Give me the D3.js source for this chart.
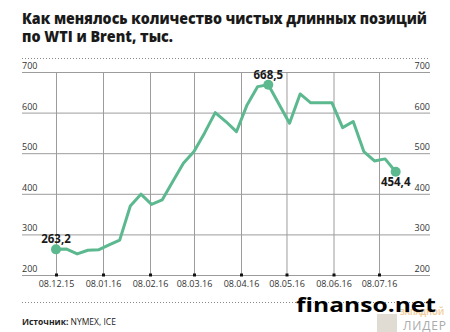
<!DOCTYPE html>
<html><head><meta charset="utf-8">
<script src="https://cdn.jsdelivr.net/npm/d3@7"></script>
<style>
html,body{margin:0;padding:0;background:#fff;}
svg{display:block;}
text{font-family:"Open Sans","Roboto",sans-serif;}
</style></head>
<body>
<svg id="c" width="450" height="332"></svg>
<script>
const dates = ["2015-12-08","2015-12-15","2015-12-22","2015-12-29","2016-01-05","2016-01-12","2016-01-19","2016-01-26",
"2016-02-02","2016-02-09","2016-02-16","2016-02-23","2016-03-01","2016-03-08","2016-03-15","2016-03-22","2016-03-29",
"2016-04-05","2016-04-12","2016-04-19","2016-04-26","2016-05-03","2016-05-10","2016-05-17","2016-05-24","2016-05-31",
"2016-06-07","2016-06-14","2016-06-21","2016-06-28","2016-07-05","2016-07-12","2016-07-19"];
const values = [263.2,264,252,261,262,274,286,370,399,374,385,430,475,504,550,600,578,553,619,664,668.5,621,574,646,624,624,624,563,578,504,481,486,454.4];
const xTickDates = ["2015-12-08","2016-01-08","2016-02-08","2016-03-08","2016-04-08","2016-05-08","2016-06-08","2016-07-08"];
const yTicks = [200,300,400,500,600,700];
const labelled = [0,20,32];
const labelText = ["263,2","668,5","454,4"];
const titleLines = ["Как менялось количество чистых длинных позиций","по WTI и Brent, тыс."];

const parse = d3.timeParse("%Y-%m-%d");
const svg = d3.select("#c");
const x = d3.scaleTime().domain([parse("2015-12-08"), parse("2016-07-08")]).range([56,379]);
const y = d3.scaleLinear().domain([200,700]).range([275,72]);
const gridColor = "#9c9c9c";

// title
svg.selectAll("text.title").data(titleLines).join("text")
  .attr("class","title")
  .attr("x",22).attr("y",(d,i)=>23.5+i*18.5)
  .attr("font-size",15).attr("font-weight",800).attr("fill","#1a1a1a")
  .attr("textLength",(d,i)=>i===0?405:151).attr("lengthAdjust","spacingAndGlyphs")
  .text(d=>d);

// dotted separators
svg.append("line").attr("x1",22).attr("x2",430).attr("y1",58.5).attr("y2",58.5)
  .attr("stroke","#888").attr("stroke-width",1).attr("stroke-dasharray","1,2");
svg.append("line").attr("x1",22).attr("x2",430).attr("y1",302.5).attr("y2",302.5)
  .attr("stroke","#888").attr("stroke-width",1).attr("stroke-dasharray","1,2");

// horizontal grid + labels
const gy = svg.append("g").attr("transform","translate(22,0)")
  .call(d3.axisRight(y).tickValues(yTicks).tickSize(408).tickFormat(d3.format("d")));
gy.select(".domain").remove();
gy.selectAll(".tick line").attr("stroke",gridColor).attr("stroke-width",1);
gy.selectAll(".tick text").attr("x",0).attr("dy",-3.5).attr("text-anchor","start")
  .attr("font-size",9).attr("fill","#333");
gy.selectAll(".tick").each(function(){
  const t = d3.select(this);
  const txt = t.select("text").text();
  t.append("text").attr("x",408).attr("y",-3.5).attr("text-anchor","end")
   .attr("font-size",9).attr("fill","#333").attr("font-family","'Open Sans',sans-serif").text(txt);
});

// vertical grid + x labels
const gx = svg.append("g").attr("transform","translate(0,275)")
  .call(d3.axisBottom(x).tickValues(xTickDates.map(parse)).tickSize(-203).tickFormat(d3.timeFormat("%d.%m.%y")));
gx.select(".domain").remove();
gx.selectAll(".tick line").attr("stroke",gridColor).attr("stroke-width",1);
gx.selectAll(".tick text").attr("y",6).attr("dy","0.71em").attr("font-size",9).attr("fill","#333");
gx.selectAll(".tick").append("rect").attr("x",-1.5).attr("y",-1.5).attr("width",3).attr("height",3).attr("fill","#111");

// line
const pts = dates.map((d,i)=>({date:parse(d), v:values[i]}));
svg.append("path").datum(pts)
  .attr("fill","none").attr("stroke","#5cb88e").attr("stroke-width",3).attr("stroke-linejoin","round")
  .attr("d", d3.line().x(d=>x(d.date)).y(d=>y(d.v)));

const lab = labelled.map((k,i)=>({p:pts[k], t:labelText[i], k}));
svg.selectAll("circle.m").data(lab).join("circle").attr("class","m")
  .attr("cx",d=>x(d.p.date)).attr("cy",d=>y(d.p.v)).attr("r",5).attr("fill","#5cb88e");
svg.selectAll("text.lab").data(lab).join("text").attr("class","lab")
  .attr("x",d=>x(d.p.date))
  .attr("y",d=>d.k===32? y(d.p.v)+14 : y(d.p.v)-6)
  .attr("text-anchor","middle").attr("font-size",11.5).attr("font-weight",700).attr("fill","#1a1a1a")
  .text(d=>d.t);

// source
const src = svg.append("text").attr("x",22).attr("y",325).attr("font-size",8.5).attr("fill","#222");
src.append("tspan").attr("font-weight",700).text("Источник: ");
src.append("tspan").text("NYMEX, ICE");

// watermark
svg.append("rect").attr("x",377).attr("y",314).attr("width",20).attr("height",18).attr("fill","#d9d3c8").attr("opacity",0.8);
svg.append("text").attr("x",400).attr("y",315).attr("font-size",9).attr("font-weight",700).attr("fill","#f0cc9a")
  .attr("textLength",44).attr("lengthAdjust","spacingAndGlyphs").text("ЗАПАДНОЙ");
svg.append("text").attr("x",403).attr("y",330).attr("font-size",12).attr("fill","#aaa")
  .attr("textLength",43).attr("lengthAdjust","spacing").text("ЛИДЕР");
svg.append("text").attr("x",296).attr("y",311.5).attr("font-size",19.5).attr("font-weight",700).attr("fill","#000")
  .attr("font-family","'DejaVu Sans',sans-serif").attr("textLength",140).attr("lengthAdjust","spacingAndGlyphs").text("finanso.net");
</script>
</body></html>
